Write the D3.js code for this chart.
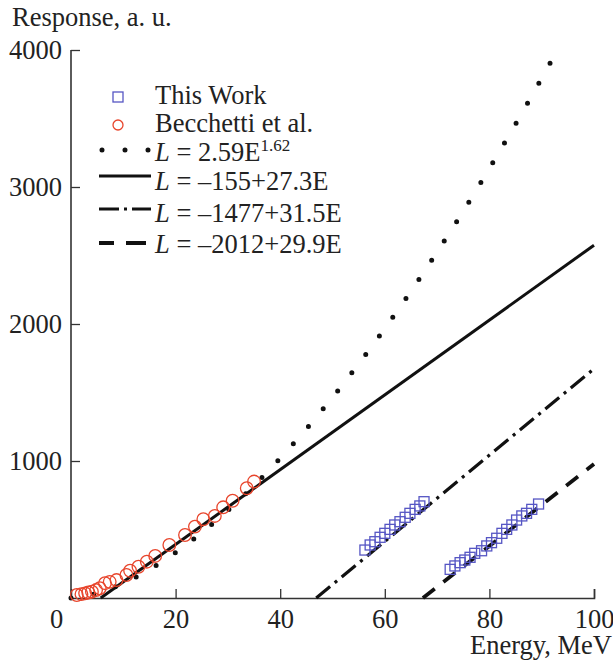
<!DOCTYPE html>
<html>
<head>
<meta charset="utf-8">
<script src="https://cdn.jsdelivr.net/npm/d3@7"></script>
<style>
  body { margin: 0; background: #fff; }
  svg text { font-family: "Liberation Serif", "Times New Roman", serif; fill: #222; }
</style>
</head>
<body>
<div id="chart"></div>
<script>
// Width and height
var w = 613;
var h = 662;
var fs = "26.5px";

// This Work (squares), two groups
var workE = [56.2, 57.2, 58.1, 59.1, 60.0, 61.0, 61.9, 62.9, 63.9, 64.8, 65.8, 66.7, 67.5,
             72.5, 73.4, 74.4, 75.3, 76.3, 77.2, 78.5, 79.5, 80.4, 81.4, 82.4, 83.3, 84.3, 85.2, 86.2, 87.1, 88.1, 89.4];
var workL = [350, 387, 411, 443, 472, 501, 533, 557, 589, 618, 647, 672, 703,
             209, 234, 258, 277, 297, 326, 345, 380, 404, 436, 472, 501, 533, 569, 599, 618, 647, 686];

// Becchetti et al. (circles)
var becE = [1.1, 2.0, 2.7, 3.3, 4.0, 4.8, 5.5, 6.5, 7.4, 8.7, 10.6, 11.3, 12.9, 14.5, 16.1, 18.8, 21.8, 23.7, 25.3, 27.5, 29.1, 30.9, 33.6, 35.0];
var becL = [22, 28, 34, 40, 46, 58, 71, 108, 118, 131, 168, 199, 228, 265, 307, 387, 460, 521, 575, 599, 662, 710, 801, 850];

// fits
var powA = 2.59, powB = 1.62;
var linA = [-155, -1477, -2012];
var linB = [27.3, 31.5, 29.9];

var xTicks = [0, 20, 40, 60, 80, 100];
var yTicks = [0, 1000, 2000, 3000, 4000];

var x = d3.scaleLinear().domain([0, 100]).range([71, 594]);
var y = d3.scaleLinear().domain([0, 4000]).range([598, 50]);

var svg = d3.select("#chart")
  .append("svg")
  .attr("width", w)
  .attr("height", h);

// axes (ticks inward)
var xAxis = svg.append("g")
  .attr("transform", "translate(0," + y(0) + ")")
  .call(d3.axisBottom(x).tickValues(xTicks).tickSize(-9).tickPadding(11).tickFormat(d3.format("d")));
var yAxis = svg.append("g")
  .attr("transform", "translate(" + x(0) + ",0)")
  .call(d3.axisLeft(y).tickValues(yTicks.slice(1)).tickSize(-9).tickPadding(9).tickFormat(d3.format("d")));

[xAxis, yAxis].forEach(function(g) {
  g.attr("font-family", "Liberation Serif").attr("font-size", null);
  g.select(".domain").attr("stroke", "#333").attr("stroke-width", 1.6);
  g.selectAll(".tick line").attr("stroke", "#333").attr("stroke-width", 1.3);
  g.selectAll(".tick text").style("font-size", fs).attr("fill", "#222");
});
// no tick mark at origin; "0" label sits left under the origin
xAxis.selectAll(".tick").filter(function(d) { return d === 0; }).select("line").remove();
xAxis.selectAll(".tick text").filter(function(d) { return d === 0; }).attr("x", -15);
yAxis.select(".domain").attr("d", "M-0," + y(4000) + "H0V" + y(0));

// axis titles
svg.append("text").attr("x", 12).attr("y", 26).style("font-size", fs).text("Response, a. u.");
svg.append("text").attr("x", 612).attr("y", 654).attr("text-anchor", "end").style("font-size", fs).text("Energy, MeV");

// fit curves
var Emax = Math.pow(4000 / powA, 1 / powB);
var powPts = d3.range(0, Emax, 0.25).concat([Emax]).map(function(e) { return [e, powA * Math.pow(e, powB)]; });
var line = d3.line().x(function(d) { return x(d[0]); }).y(function(d) { return y(d[1]); });

svg.append("path")
  .attr("d", line(powPts))
  .attr("fill", "none").attr("stroke", "#111")
  .attr("stroke-width", 5).attr("stroke-linecap", "round")
  .attr("stroke-dasharray", "0,23");

var styles = [
  { dash: null, width: 3 },
  { dash: "18,6,3,6", width: 3.2 },
  { dash: "15,11", width: 3.8 }
];
linA.forEach(function(a, i) {
  var e0 = -a / linB[i];
  svg.append("path")
    .attr("d", line([[e0, 0], [100, a + linB[i] * 100]]))
    .attr("fill", "none").attr("stroke", "#111")
    .attr("stroke-width", styles[i].width)
    .attr("stroke-dasharray", styles[i].dash);
});

// data points
svg.selectAll(".bec")
  .data(becE)
  .enter()
  .append("circle")
  .attr("class", "bec")
  .attr("cx", function(d) { return x(d); })
  .attr("cy", function(d, i) { return y(becL[i]); })
  .attr("r", 6.3)
  .attr("fill", "none")
  .attr("stroke", "#e8452c")
  .attr("stroke-width", 1.3);

svg.selectAll(".work")
  .data(workE)
  .enter()
  .append("rect")
  .attr("class", "work")
  .attr("x", function(d) { return x(d) - 5; })
  .attr("y", function(d, i) { return y(workL[i]) - 5; })
  .attr("width", 10).attr("height", 10)
  .attr("fill", "none")
  .attr("stroke", "#5656c4")
  .attr("stroke-width", 1.3);

// legend
var lg = svg.append("g");
lg.append("rect").attr("x", 113).attr("y", 92).attr("width", 10).attr("height", 10)
  .attr("fill", "none").attr("stroke", "#5656c4").attr("stroke-width", 1.3);
lg.append("text").attr("x", 155).attr("y", 104).style("font-size", fs).text("This Work");
lg.append("circle").attr("cx", 118).attr("cy", 125).attr("r", 5)
  .attr("fill", "none").attr("stroke", "#e8452c").attr("stroke-width", 1.3);
lg.append("text").attr("x", 155).attr("y", 132).style("font-size", fs).text("Becchetti et al.");

var legRows = [
  { y: 150, dash: "0,23", width: 5, cap: "round", x1: 102, x2: 150, tb: 161 },
  { y: 176, dash: null, width: 3, cap: "butt", x1: 99, x2: 151, tb: 190 },
  { y: 209, dash: "20,5,3,5,20", width: 3.2, cap: "butt", x1: 99, x2: 151, tb: 222 },
  { y: 243, dash: "15,12,20", width: 3.8, cap: "butt", x1: 99, x2: 151, tb: 253 }
];
var legLabels = [
  ["2.59E", "1.62"],
  ["\u2013155+27.3E", ""],
  ["\u20131477+31.5E", ""],
  ["\u20132012+29.9E", ""]
];
legRows.forEach(function(r, i) {
  lg.append("line").attr("x1", r.x1).attr("x2", r.x2).attr("y1", r.y).attr("y2", r.y)
    .attr("stroke", "#111").attr("stroke-width", r.width)
    .attr("stroke-linecap", r.cap).attr("stroke-dasharray", r.dash);
  var t = lg.append("text").attr("x", 155).attr("y", r.tb).style("font-size", fs);
  t.append("tspan").style("font-style", "italic").text("L");
  t.append("tspan").text(" = " + legLabels[i][0]);
  if (legLabels[i][1]) {
    t.append("tspan").attr("dy", -10).style("font-size", "17px").text(legLabels[i][1]);
  }
});
</script>
</body>
</html>
